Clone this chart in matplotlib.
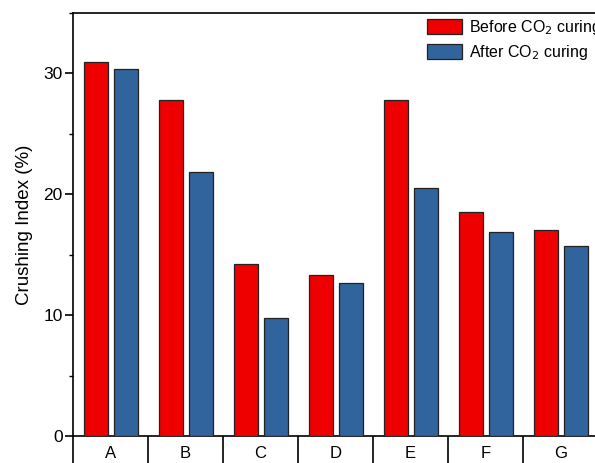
import matplotlib
matplotlib.use("Agg")
import matplotlib.pyplot as plt
import numpy as np
from matplotlib.ticker import FixedLocator, MultipleLocator

categories = ["A", "B", "C", "D", "E", "F", "G"]
before = [30.95, 27.8, 14.2, 13.35, 27.8, 18.55, 17.05]
after = [30.4, 21.85, 9.75, 12.7, 20.5, 16.85, 15.75]
series_names = ["Before CO$_2$ curing", "After CO$_2$ curing"]

plt.rcParams['font.family'] = ['Liberation Sans', 'DejaVu Sans']

W, H = 595, 463
fig = plt.figure(figsize=(W/100, H/100), dpi=100)
left, right, bottom, top = 73, 598, 436, 13
ax = fig.add_axes([left/W, (H-bottom)/H, (right-left)/W, (bottom-top)/H])

x = np.arange(len(categories))
bw = 0.32
kw = dict(edgecolor='#222222', linewidth=0.9, zorder=3)
ax.bar(x - 0.2, before, bw, color='#EE0000', label=series_names[0], **kw)
ax.bar(x + 0.2, after, bw, color='#31649C', label=series_names[1], **kw)

ax.set_xlim(-0.5, len(categories) - 0.5)
ax.set_ylim(0, 35)

ax.spines['right'].set_visible(False)
for s in ['left', 'bottom', 'top']:
    ax.spines[s].set_linewidth(1.2)

ax.set_xticks(x)
ax.set_xticklabels(categories, fontsize=12)
ax.xaxis.set_minor_locator(FixedLocator(np.arange(-0.5, len(categories), 1.0)))
ax.tick_params(axis='x', which='major', length=0, pad=7)
ax.tick_params(axis='x', which='minor', length=20, width=1.2, direction='out')

ax.yaxis.set_major_locator(MultipleLocator(10))
ax.yaxis.set_minor_locator(MultipleLocator(5))
ax.tick_params(axis='y', which='major', length=5.5, width=1.2, labelsize=12.5, pad=2)
ax.tick_params(axis='y', which='minor', length=3, width=1.0)
ax.set_ylabel("Crushing Index (%)", fontsize=13.5, labelpad=7)

leg = ax.legend(loc='upper left', bbox_to_anchor=(427/W, 1 - 18/H),
                bbox_transform=fig.transFigure, frameon=False, fontsize=11.5,
                handlelength=2.2, handleheight=1.05, handletextpad=0.4,
                labelspacing=0.35, borderaxespad=0, borderpad=0)

fig.savefig("out.png", dpi=100)
